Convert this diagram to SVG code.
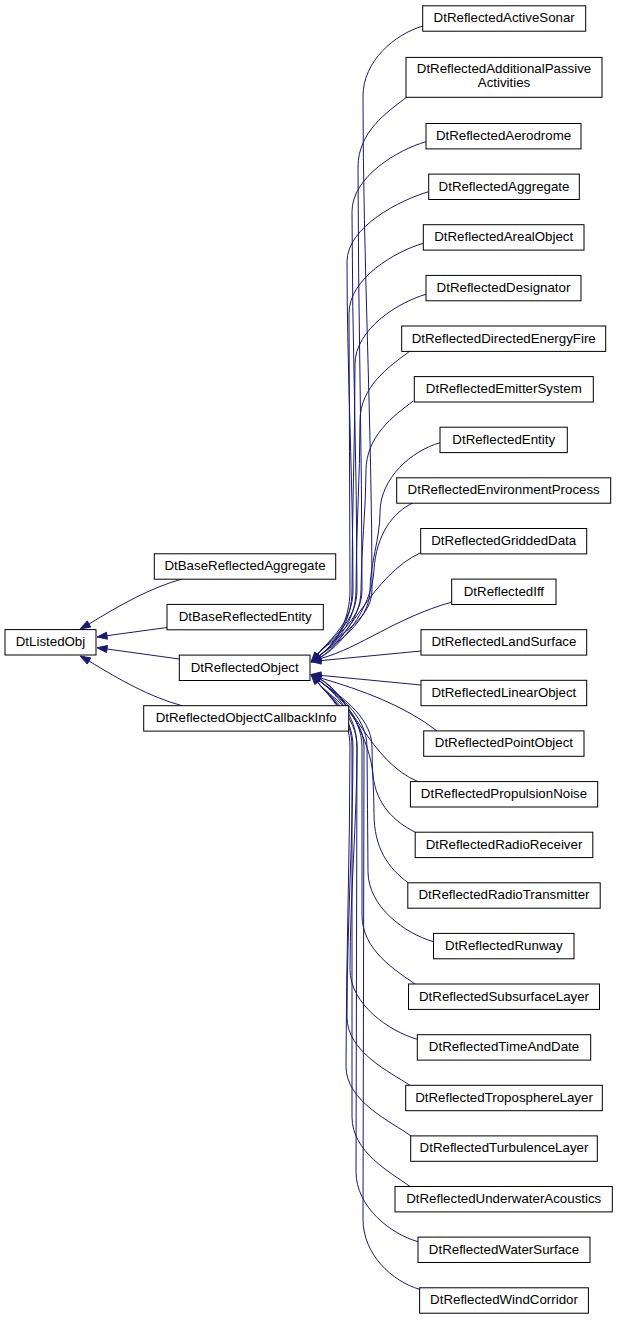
<svg xmlns="http://www.w3.org/2000/svg" width="619" height="1320" viewBox="0 0 619 1320">
<style>
.n rect{fill:#fff;stroke:#000;stroke-width:1}
.n text{font-family:"Liberation Sans",Arial,Helvetica,sans-serif;font-size:13.3px;fill:#000;text-anchor:middle}
.e path{fill:none;stroke:#191970;stroke-width:1}
.e polygon{fill:#191970;stroke:#191970;stroke-width:1}
</style>
<rect width="619" height="1320" fill="#fff"/>
<g id="connectors" class="e">
<!-- left side -->
<path d="M89,624 C120,605 150,588 182,579"/>
<polygon points="80,629 90.7,627.1 87.3,620.9"/>
<path d="M107,635.7 L167,627.5"/>
<polygon points="97,637 107.45,639.2 106.55,632.2"/>
<path d="M107,649 L179.3,659"/>
<polygon points="97,647.7 107.5,645.5 106.5,652.5"/>
<path d="M89,661 C120,680 150,697 182,705.7"/>
<polygon points="80,656 90.7,657.9 87.3,664.1"/>
<!-- upper children -->
<path d="M317.5,654.3 C330.4,639 372,622 372,590 C372,425.3 363,260.7 363,96 C363,61 395,34 423,26"/>
<path d="M317.5,654.3 C330.4,639 362,622 362,590 C362,449 358,308 358,167 C358,132 387,112 407,97"/>
<path d="M317.5,654.3 C330.4,639 357,622 357,590 C357,463.9 352,337.8 352,211.7 C352,176.7 398,149.7 426,141.7"/>
<path d="M317.5,654.3 C330.4,639 353,622 353,590 C353,480.6 347,371.1 347,261.7 C347,226.7 400.7,199.7 428.7,191.7"/>
<polygon points="311,662 320.2,656.6 314.8,652"/>
<path d="M319,656 C335,644 350,622 350,590 C350,497.8 349,405.5 349,313.3 C349,278.3 395.3,251.3 423.3,243.3"/>
<path d="M319,656 C335,644 352,622 352,590 C352,514.8 355,439.5 355,364.3 C355,329.3 398,302.3 426,294.3"/>
<path d="M319,656 C335,644 356,622 356,590 C356,533.7 360,477.3 360,421 C360,386 390,366 410,351"/>
<path d="M319,656 C335,644 361,622 361,590 C361,550.3 366,510.7 366,471 C366,436 393.3,416 413.3,401"/>
<path d="M319,656 C335,644 370,622 370,590 C370,564.2 380,538.5 380,512.7 C380,477.7 412,450.7 440,442.7"/>
<polygon points="311,662 321.1,658.8 316.9,653.2"/>
<path d="M320,657.5 C338,648.5 372,610 374,570 C376,535 393,512 413.3,502.7"/>
<path d="M320,657.5 C348,642 372,575 420.7,552.7"/>
<polygon points="311,662 321.6,660.6 318.4,654.4"/>
<path d="M320.5,658.5 C360,648 395,618 452,602"/>
<polygon points="311,662 321.7,661.8 319.3,655.2"/>
<path d="M321,660.6 L421,651"/>
<polygon points="311,661.5 321.3,664.1 320.7,657.1"/>
<!-- lower children -->
<path d="M321,675.4 L421,685"/>
<polygon points="311,674.5 320.7,678.9 321.3,671.9"/>
<path d="M320.5,678 C362,690 405,706 437,730.9"/>
<polygon points="311,674.5 321.7,674.7 319.3,681.3"/>
<path d="M320,679 C350,694 370,762 418,781.6"/>
<path d="M320,679 C345,694 370,740 373,775 C376,805 395,822 415.2,832.2"/>
<polygon points="311,674.5 321.6,675.9 318.4,682.1"/>
<path d="M319,680.5 C335,692.5 372,715 372,747 C372,769.1 374,791.2 374,813.3 C374,848.3 388.3,868.3 408.3,882.8"/>
<path d="M319,680.5 C335,692.5 367,715 367,747 C367,788.6 368,830.1 368,871.7 C368,906.7 405.3,933.7 433.5,941.7"/>
<path d="M319,680.5 C335,692.5 362,715 362,747 L362,915 C362,950 395,970 415,984"/>
<path d="M319,680.5 C335,692.5 357,715 357,747 C357,821.1 350,895.2 350,969.3 C350,1004.3 389.3,1031.3 417.3,1039.3"/>
<polygon points="311,674.5 321.1,677.7 316.9,683.3"/>
<path d="M317.5,682.2 C330.4,697.5 353,715 353,747 C353,837 347,927 347,1017 C347,1052 390,1072 410,1085.3"/>
<path d="M317.5,682.2 C330.4,697.5 350,715 350,747 C350,853.5 346,960 346,1066.5 C346,1101.5 391,1121.5 411,1135.9"/>
<path d="M317.5,682.2 C330.4,697.5 352,715 352,747 L352,1117 C352,1152 390,1172 410,1186.5"/>
<path d="M317.5,682.2 C330.4,697.5 357,715 357,747 C357,888.6 356,1030.1 356,1171.7 C356,1206.7 390,1233.7 418,1241.7"/>
<path d="M317.5,682.2 C330.4,697.5 364,715 364,747 C364,904.4 363,1061.9 363,1219.3 C363,1254.3 392,1281.3 419.6,1289.3"/>
<polygon points="311,674.5 320.2,679.9 314.8,684.5"/>
</g>
<g id="DtListedObj" class="n"><rect x="5" y="629.6" width="91" height="25.4"/><text x="50.5" y="646.1">DtListedObj</text></g>
<g id="DtBaseReflectedAggregate" class="n"><rect x="154.3" y="553.8" width="181.4" height="25.4"/><text x="245" y="570.3">DtBaseReflectedAggregate</text></g>
<g id="DtBaseReflectedEntity" class="n"><rect x="167" y="604.4" width="156.3" height="25.4"/><text x="245.2" y="620.9">DtBaseReflectedEntity</text></g>
<g id="DtReflectedObject" class="n"><rect x="179.3" y="655.1" width="130.7" height="25.4"/><text x="244.7" y="671.6">DtReflectedObject</text></g>
<g id="DtReflectedObjectCallbackInfo" class="n"><rect x="143.7" y="705.7" width="205" height="25.4"/><text x="246.2" y="722.2">DtReflectedObjectCallbackInfo</text></g>
<g id="DtReflectedActiveSonar" class="n"><rect x="422.7" y="5.8" width="163" height="25.4"/><text x="504.2" y="22.3">DtReflectedActiveSonar</text></g>
<g id="DtReflectedAdditionalPassiveActivities" class="n"><rect x="406" y="57.4" width="196" height="39.9"/><text x="504" y="73.3">DtReflectedAdditionalPassive</text><text x="504" y="87.3">Activities</text></g>
<g id="DtReflectedAerodrome" class="n"><rect x="426" y="123.5" width="155" height="25.4"/><text x="503.5" y="140">DtReflectedAerodrome</text></g>
<g id="DtReflectedAggregate" class="n"><rect x="428.7" y="174.1" width="150.6" height="25.4"/><text x="504" y="190.6">DtReflectedAggregate</text></g>
<g id="DtReflectedArealObject" class="n"><rect x="423.3" y="224.7" width="160.7" height="25.4"/><text x="503.7" y="241.2">DtReflectedArealObject</text></g>
<g id="DtReflectedDesignator" class="n"><rect x="426" y="275.4" width="155" height="25.4"/><text x="503.5" y="291.9">DtReflectedDesignator</text></g>
<g id="DtReflectedDirectedEnergyFire" class="n"><rect x="401.7" y="326" width="204" height="25.4"/><text x="503.7" y="342.5">DtReflectedDirectedEnergyFire</text></g>
<g id="DtReflectedEmitterSystem" class="n"><rect x="414.3" y="376.6" width="179" height="25.4"/><text x="503.8" y="393.1">DtReflectedEmitterSystem</text></g>
<g id="DtReflectedEntity" class="n"><rect x="440" y="427.2" width="127.3" height="25.4"/><text x="503.7" y="443.7">DtReflectedEntity</text></g>
<g id="DtReflectedEnvironmentProcess" class="n"><rect x="396.7" y="477.8" width="214" height="25.4"/><text x="503.7" y="494.3">DtReflectedEnvironmentProcess</text></g>
<g id="DtReflectedGriddedData" class="n"><rect x="420.7" y="528.5" width="166" height="25.4"/><text x="503.7" y="545">DtReflectedGriddedData</text></g>
<g id="DtReflectedIff" class="n"><rect x="451.7" y="579.1" width="104.3" height="25.4"/><text x="503.9" y="595.6">DtReflectedIff</text></g>
<g id="DtReflectedLandSurface" class="n"><rect x="421" y="629.7" width="165.7" height="25.4"/><text x="503.9" y="646.2">DtReflectedLandSurface</text></g>
<g id="DtReflectedLinearObject" class="n"><rect x="421" y="680.3" width="165.7" height="25.4"/><text x="503.9" y="696.8">DtReflectedLinearObject</text></g>
<g id="DtReflectedPointObject" class="n"><rect x="423.7" y="730.9" width="160.3" height="25.4"/><text x="503.9" y="747.4">DtReflectedPointObject</text></g>
<g id="DtReflectedPropulsionNoise" class="n"><rect x="410.4" y="781.6" width="187.3" height="25.4"/><text x="504" y="798.1">DtReflectedPropulsionNoise</text></g>
<g id="DtReflectedRadioReceiver" class="n"><rect x="415.2" y="832.2" width="177.6" height="25.4"/><text x="504" y="848.7">DtReflectedRadioReceiver</text></g>
<g id="DtReflectedRadioTransmitter" class="n"><rect x="407.8" y="882.8" width="192.4" height="25.4"/><text x="504" y="899.3">DtReflectedRadioTransmitter</text></g>
<g id="DtReflectedRunway" class="n"><rect x="433.5" y="933.4" width="140.5" height="25.4"/><text x="503.8" y="949.9">DtReflectedRunway</text></g>
<g id="DtReflectedSubsurfaceLayer" class="n"><rect x="408.5" y="984" width="191" height="25.4"/><text x="504" y="1000.5">DtReflectedSubsurfaceLayer</text></g>
<g id="DtReflectedTimeAndDate" class="n"><rect x="417.3" y="1034.7" width="173.4" height="25.4"/><text x="504" y="1051.2">DtReflectedTimeAndDate</text></g>
<g id="DtReflectedTroposphereLayer" class="n"><rect x="405.7" y="1085.3" width="196.6" height="25.4"/><text x="504" y="1101.8">DtReflectedTroposphereLayer</text></g>
<g id="DtReflectedTurbulenceLayer" class="n"><rect x="410.7" y="1135.9" width="186.6" height="25.4"/><text x="504" y="1152.4">DtReflectedTurbulenceLayer</text></g>
<g id="DtReflectedUnderwaterAcoustics" class="n"><rect x="395" y="1186.5" width="217.3" height="25.4"/><text x="503.7" y="1203">DtReflectedUnderwaterAcoustics</text></g>
<g id="DtReflectedWaterSurface" class="n"><rect x="418" y="1237.1" width="172" height="25.4"/><text x="504" y="1253.6">DtReflectedWaterSurface</text></g>
<g id="DtReflectedWindCorridor" class="n"><rect x="419.6" y="1287.8" width="168.8" height="25.4"/><text x="504" y="1304.3">DtReflectedWindCorridor</text></g>
</svg>
